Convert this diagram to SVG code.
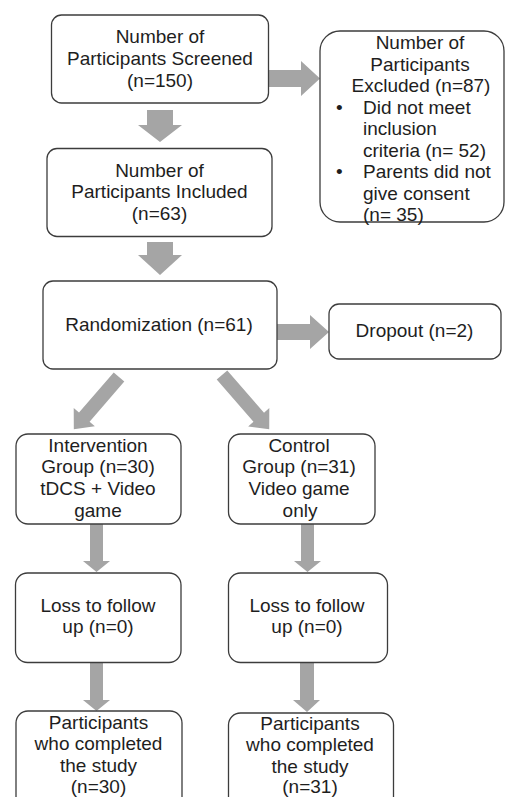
<svg xmlns="http://www.w3.org/2000/svg" width="506" height="797" viewBox="0 0 506 797">
<style>
.box{fill:#fff;stroke:#3c3c3c;stroke-width:1.3}
.arr{fill:#a5a5a5;stroke:none}
text{font-family:"Liberation Sans",Arial,sans-serif;font-size:19px;fill:#1e1e1e}
.c{text-anchor:middle}
</style>
<rect width="506" height="797" fill="#fff"/>
<g id="connectors">
<polygon class="arr" points="147,110 173,110 173,125 182,125 160,142 138,125 147,125"/>
<polygon class="arr" points="268,70 301,70 301,61 320,78.5 301,96 301,87 268,87"/>
<polygon class="arr" points="147,242 173,242 173,255 182,255 160,275 138,255 147,255"/>
<polygon class="arr" points="277,324 310,324 310,315 329,332 310,349 310,340 277,340"/>
<polygon class="arr" transform="translate(119,377) rotate(130.9)" points="0,-7 53,-7 53,-14 69,0 53,14 53,7 0,7"/>
<polygon class="arr" transform="translate(222,375) rotate(49)" points="0,-7 56,-7 56,-14 72,0 56,14 56,7 0,7"/>
<polygon class="arr" points="90,524 103,524 103,561 110,561 96.5,572 83,561 90,561"/>
<polygon class="arr" points="301,524 314,524 314,561 321,561 307.5,572 294,561 301,561"/>
<polygon class="arr" points="90,662 103,662 103,700 110,700 96.5,711 83,700 90,700"/>
<polygon class="arr" points="300,662 314,662 314,700 320,700 307,712 293,700 300,700"/>
</g>
<g id="screened">
<rect class="box" x="51.5" y="15" width="217" height="88" rx="10"/>
<text class="c" x="160" y="43">Number of</text>
<text class="c" x="160" y="65">Participants Screened</text>
<text class="c" x="160" y="86.5">(n=150)</text>
</g>
<g id="excluded">
<rect class="box" x="320" y="31" width="184" height="191" rx="20"/>
<text class="c" x="420" y="49">Number of</text>
<text class="c" x="420" y="70.5">Participants</text>
<text class="c" x="421" y="92">Excluded (n=87)</text>
<text x="336" y="113.5">•</text>
<text x="363" y="113.5">Did not meet</text>
<text x="363" y="135">inclusion</text>
<text x="363" y="156.5">criteria (n= 52)</text>
<text x="336" y="178">•</text>
<text x="363" y="178">Parents did not</text>
<text x="363" y="199.5">give consent</text>
<text x="363" y="220.5">(n= 35)</text>
</g>
<g id="included">
<rect class="box" x="47" y="148.5" width="225" height="88" rx="10"/>
<text class="c" x="159.5" y="176.5">Number of</text>
<text class="c" x="159.5" y="198">Participants Included</text>
<text class="c" x="159.5" y="219.5">(n=63)</text>
</g>
<g id="randomization">
<rect class="box" x="43" y="281" width="234" height="88" rx="10"/>
<text class="c" x="159" y="331">Randomization (n=61)</text>
</g>
<g id="dropout">
<rect class="box" x="329" y="304" width="172" height="55" rx="10"/>
<text class="c" x="414.5" y="337">Dropout (n=2)</text>
</g>
<g id="intervention">
<rect class="box" x="16" y="434" width="165" height="90" rx="12"/>
<text class="c" x="98" y="451.5">Intervention</text>
<text class="c" x="98" y="473">Group (n=30)</text>
<text class="c" x="98" y="495">tDCS + Video</text>
<text class="c" x="98" y="516.5">game</text>
</g>
<g id="control">
<rect class="box" x="228.5" y="434" width="146.5" height="90" rx="12"/>
<text class="c" x="299" y="451.5">Control</text>
<text class="c" x="299" y="473">Group (n=31)</text>
<text class="c" x="299" y="495">Video game</text>
<text class="c" x="300" y="516.5">only</text>
</g>
<g id="loss-intervention">
<rect class="box" x="15.5" y="573" width="165.5" height="89.5" rx="12"/>
<text class="c" x="98" y="611.5">Loss to follow</text>
<text class="c" x="98" y="633">up (n=0)</text>
</g>
<g id="loss-control">
<rect class="box" x="228.5" y="573" width="159" height="89.5" rx="12"/>
<text class="c" x="307" y="611.5">Loss to follow</text>
<text class="c" x="307" y="633">up (n=0)</text>
</g>
<g id="completed-intervention">
<rect class="box" x="16" y="711" width="166" height="100" rx="12"/>
<text class="c" x="98.5" y="728.5">Participants</text>
<text class="c" x="98.5" y="750">who completed</text>
<text class="c" x="98.5" y="771.5">the study</text>
<text class="c" x="98.5" y="792.5">(n=30)</text>
</g>
<g id="completed-control">
<rect class="box" x="228.5" y="713" width="165" height="100" rx="12"/>
<text class="c" x="310" y="730">Participants</text>
<text class="c" x="310" y="751">who completed</text>
<text class="c" x="310" y="772.5">the study</text>
<text class="c" x="310" y="792.5">(n=31)</text>
</g>
</svg>
